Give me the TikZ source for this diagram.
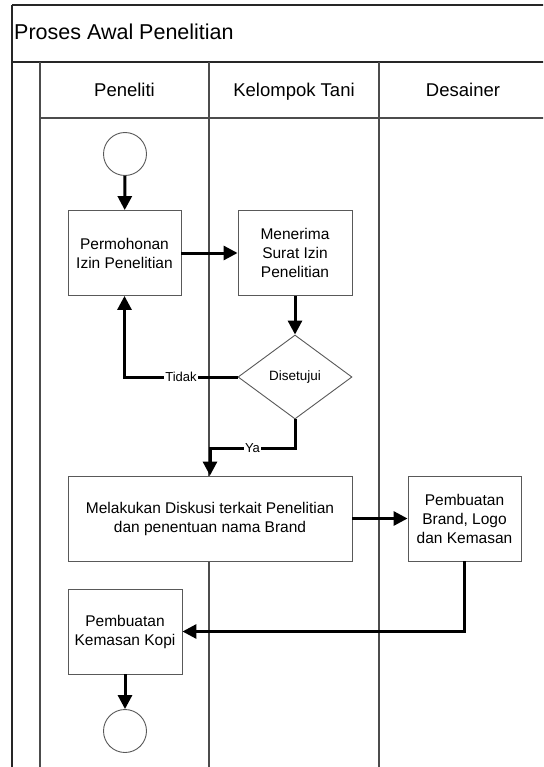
\documentclass[tikz,border=0pt]{standalone}
\usepackage{fontspec}
\setmainfont{Liberation Sans}
\usetikzlibrary{arrows.meta,shapes.geometric}

\begin{document}
\begin{tikzpicture}[x=1pt, y=-1pt,
    frame/.style={draw=black!85, line width=1.4pt},
    lane/.style={draw=black!70, line width=1.3pt},
    box/.style={draw=black!65, line width=0.9pt, fill=white, rectangle, minimum width=113pt, minimum height=85pt, align=center, inner sep=2pt, font=\fontsize{15.5}{19}\selectfont},
    ev/.style={draw=black!65, line width=0.9pt, fill=white, circle, minimum size=43pt, inner sep=0pt},
    flow/.style={-{Triangle[length=14pt,width=14pt]}, line width=3pt},
    lbl/.style={fill=white, inner sep=1pt, font=\fontsize{13}{15}\selectfont}]
    \useasboundingbox (0,0) rectangle (543,767);
    \clip (0,0) rectangle (543,767);

    % Pool dan lanes
    \draw[frame] (12,5) -- (560,5);
    \draw[frame] (12,5) -- (12,790);
    \draw[frame, line width=2pt] (12,62) -- (560,62);
    \draw[lane] (40,62) -- (40,790);
    \draw[lane] (40,118) -- (560,118);
    \draw[lane] (209,62) -- (209,790);
    \draw[lane] (379,62) -- (379,790);
    \draw[lane] (547,5) -- (547,790);

    % Judul
    \node[anchor=west, inner sep=0pt, font=\fontsize{21.5}{25}\selectfont] (judul) at (14,32) {Proses Awal Penelitian};

    % Header lanes
    \node[anchor=base, font=\fontsize{18.5}{22}\selectfont] (hpeneliti) at (124.5,96.5) {Peneliti};
    \node[anchor=base, font=\fontsize{18.5}{22}\selectfont] (htani) at (294,96.5) {Kelompok Tani};
    \node[anchor=base, font=\fontsize{18.5}{22}\selectfont] (hdesainer) at (463,96.5) {Desainer};

    % Mulai
    \node[ev] (mulai) at (125,154) {};

    % Permohonan izin
    \node[box] (izin) at (124.5,253) {Permohonan\\Izin Penelitian};

    % Menerima surat
    \node[box, minimum width=114pt] (surat) at (295,253) {Menerima\\Surat Izin\\Penelitian};

    % Keputusan
    \node[diamond, draw=black!65, line width=0.9pt, fill=white, minimum width=114pt, minimum height=84pt, inner sep=1pt, font=\fontsize{13.5}{16}\selectfont] (setuju) at (295,377) {Disetujui};

    % Diskusi
    \node[box, minimum width=284pt] (diskusi) at (210,518.5) {Melakukan Diskusi terkait Penelitian\\dan penentuan nama Brand};

    % Desain brand
    \node[box] (brand) at (464.5,518.5) {Pembuatan\\Brand, Logo\\dan Kemasan};

    % Kemasan kopi
    \node[box, minimum width=114pt] (kopi) at (125,631.5) {Pembuatan\\Kemasan Kopi};

    % Selesai
    \node[ev] (selesai) at (125,731) {};

    % Connections
    \draw[flow] (mulai) -- (izin);
    \draw[flow] (izin) -- (surat);
    \draw[flow] (surat) -- (setuju);
    \draw[flow] (setuju.west) -| node[lbl, pos=0.25] {Tidak} (izin.south);
    \draw[flow] (setuju.south) -- ++(0,29) -| node[lbl, pos=0.25] {Ya} (diskusi.north);
    \draw[flow] (diskusi) -- (brand);
    \draw[flow] (brand.south) |- (kopi.east);
    \draw[flow] (kopi) -- (selesai);
\end{tikzpicture}
\end{document}
